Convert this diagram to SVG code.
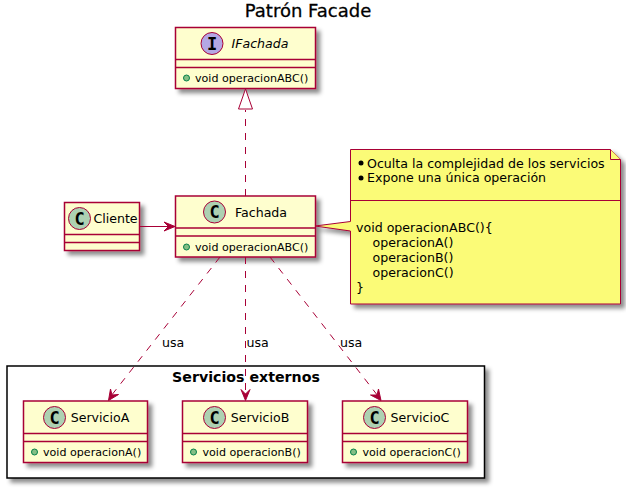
<svg xmlns="http://www.w3.org/2000/svg" width="626" height="489" viewBox="0 0 626 489">
<style>
text{font-family:"DejaVu Sans",sans-serif;fill:#000}
.box{fill:#FEFECE;stroke:#A80036;stroke-width:1.5}
.ln{stroke:#A80036;stroke-width:1.5;fill:none}
.name{font-size:12.6px;text-anchor:middle}
.mem{font-size:11.1px}
.vis{fill:#84BE84;stroke:#038048;stroke-width:1}
.spot{fill:#ADD1B2;stroke:#A80036;stroke-width:1}
.lbl{font-size:12.6px}
.note{font-size:12.6px}
.dash{stroke:#A80036;stroke-width:1;fill:none;stroke-dasharray:7 7}
.solid{stroke:#A80036;stroke-width:1;fill:none}
.head{fill:#A80036;stroke:#A80036;stroke-width:1}
.letter{font-family:"DejaVu Sans Mono",monospace;font-size:17px;font-weight:bold;text-anchor:middle}
</style>
<defs>
<filter id="sh" x="-20%" y="-20%" width="140%" height="140%"><feDropShadow dx="4" dy="4" stdDeviation="2" flood-color="#000" flood-opacity="0.45"/></filter>
</defs>
<text x="308" y="16.500" font-size="18" text-anchor="middle" id="title" stroke="#000" stroke-width="0.3">Patrón Facade</text>
<g id="pkg"><rect x="7" y="366" width="477.500" height="112" fill="#fff" stroke="#000" stroke-width="1.500" filter="url(#sh)"/><text x="246" y="382" font-size="14.200" font-weight="bold" text-anchor="middle">Servicios externos</text></g>
<g id="IFachada"><rect class="box" x="175.500" y="27.500" width="140" height="61" filter="url(#sh)"/><path class="ln" d="M175.500 59.500H315.500M175.500 67.500H315.500"/><circle cx="212" cy="43.500" r="11" fill="#B4A7E5" stroke="#A80036"/><text class="letter" x="212" y="49.500">I</text><text x="231.500" y="48" font-size="12.600" font-style="italic">IFachada</text><circle class="vis" cx="186.500" cy="78" r="3"/><text class="mem" x="195" y="82">void operacionABC()</text></g>
<g id="Cliente"><rect class="box" x="64.500" y="202.500" width="75" height="48" filter="url(#sh)"/><path class="ln" d="M64.500 234.500H139.500M64.500 242.500H139.500"/><circle class="spot" cx="79.500" cy="218.500" r="11"/><text class="letter" x="79.500" y="224.500">C</text><text class="name" x="115.500" y="223">Cliente</text></g>
<g id="Fachada"><rect class="box" x="175.500" y="196" width="140" height="61" filter="url(#sh)"/><path class="ln" d="M175.500 228H315.500M175.500 236H315.500"/><circle class="spot" cx="214.500" cy="212" r="11"/><text class="letter" x="214.500" y="218">C</text><text class="name" x="261" y="217">Fachada</text><circle class="vis" cx="186.500" cy="247" r="3"/><text class="mem" x="195" y="251">void operacionABC()</text></g>
<g id="Nota"><path d="M350.500 149.500H610.500L620.500 159.500V304H350.500V231L315 226 350.500 221.500Z" fill="#FBFB77" stroke="#A80036" filter="url(#sh)"/><path d="M610.500 149.500V159.500H620.500" fill="#FBFB77" stroke="#A80036"/><path d="M350.500 200.500H620.500" stroke="#A80036"/><circle cx="361" cy="163" r="2.500"/><circle cx="361" cy="178" r="2.500"/><text class="note" x="367" y="168">Oculta la complejidad de los servicios</text><text class="note" x="367" y="182">Expone una única operación</text><text class="note" x="356" y="232">void operacionABC(){</text><text class="note" x="372.500" y="247">operacionA()</text><text class="note" x="372.500" y="262">operacionB()</text><text class="note" x="372.500" y="277">operacionC()</text><text class="note" x="356" y="292">}</text></g>
<g id="ServicioA"><rect class="box" x="23.500" y="401" width="124" height="61.500" filter="url(#sh)"/><path class="ln" d="M23.500 433.500H147.500M23.500 441.500H147.500"/><circle class="spot" cx="54.500" cy="417.500" r="11"/><text class="letter" x="54.500" y="423.500">C</text><text class="name" x="100" y="422">ServicioA</text><circle class="vis" cx="34.500" cy="452" r="3"/><text class="mem" x="43" y="456">void operacionA()</text></g>
<g id="ServicioB"><rect class="box" x="182.500" y="401" width="125" height="61.500" filter="url(#sh)"/><path class="ln" d="M182.500 433.500H307.500M182.500 441.500H307.500"/><circle class="spot" cx="214.500" cy="417.500" r="11"/><text class="letter" x="214.500" y="423.500">C</text><text class="name" x="260" y="422">ServicioB</text><circle class="vis" cx="193.500" cy="452" r="3"/><text class="mem" x="202.500" y="456">void operacionB()</text></g>
<g id="ServicioC"><rect class="box" x="342.500" y="401" width="125" height="61.500" filter="url(#sh)"/><path class="ln" d="M342.500 433.500H467.500M342.500 441.500H467.500"/><circle class="spot" cx="374.500" cy="417.500" r="11"/><text class="letter" x="374.500" y="423.500">C</text><text class="name" x="420" y="422">ServicioC</text><circle class="vis" cx="353.500" cy="452" r="3"/><text class="mem" x="362.500" y="456">void operacionC()</text></g>
<g id="connectors">
<path class="dash" d="M245.500 196V110"/><path d="M245.500 89 238.500 109H252.500Z" fill="#fff" stroke="#A80036"/>
<path class="solid" d="M139.500 226.500H170"/><path class="head" d="M175 226.500 164 222 168.500 226.500 164 231Z"/>
<path class="dash" d="M220 257 111 396"/><path class="head" d="M108.500 400.500 110.500 389 112 395 118.500 394.500Z"/>
<path class="dash" d="M245.500 257V395"/><path class="head" d="M245.500 400.500 241 389.500 245.500 394 250 389.500Z"/>
<path class="dash" d="M270 257 378 396"/><path class="head" d="M381 400.500 370.500 395 377 395 378.500 389Z"/>
<text class="lbl" x="162" y="347">usa</text><text class="lbl" x="246.500" y="347">usa</text><text class="lbl" x="340" y="347">usa</text>
</g>
</svg>
